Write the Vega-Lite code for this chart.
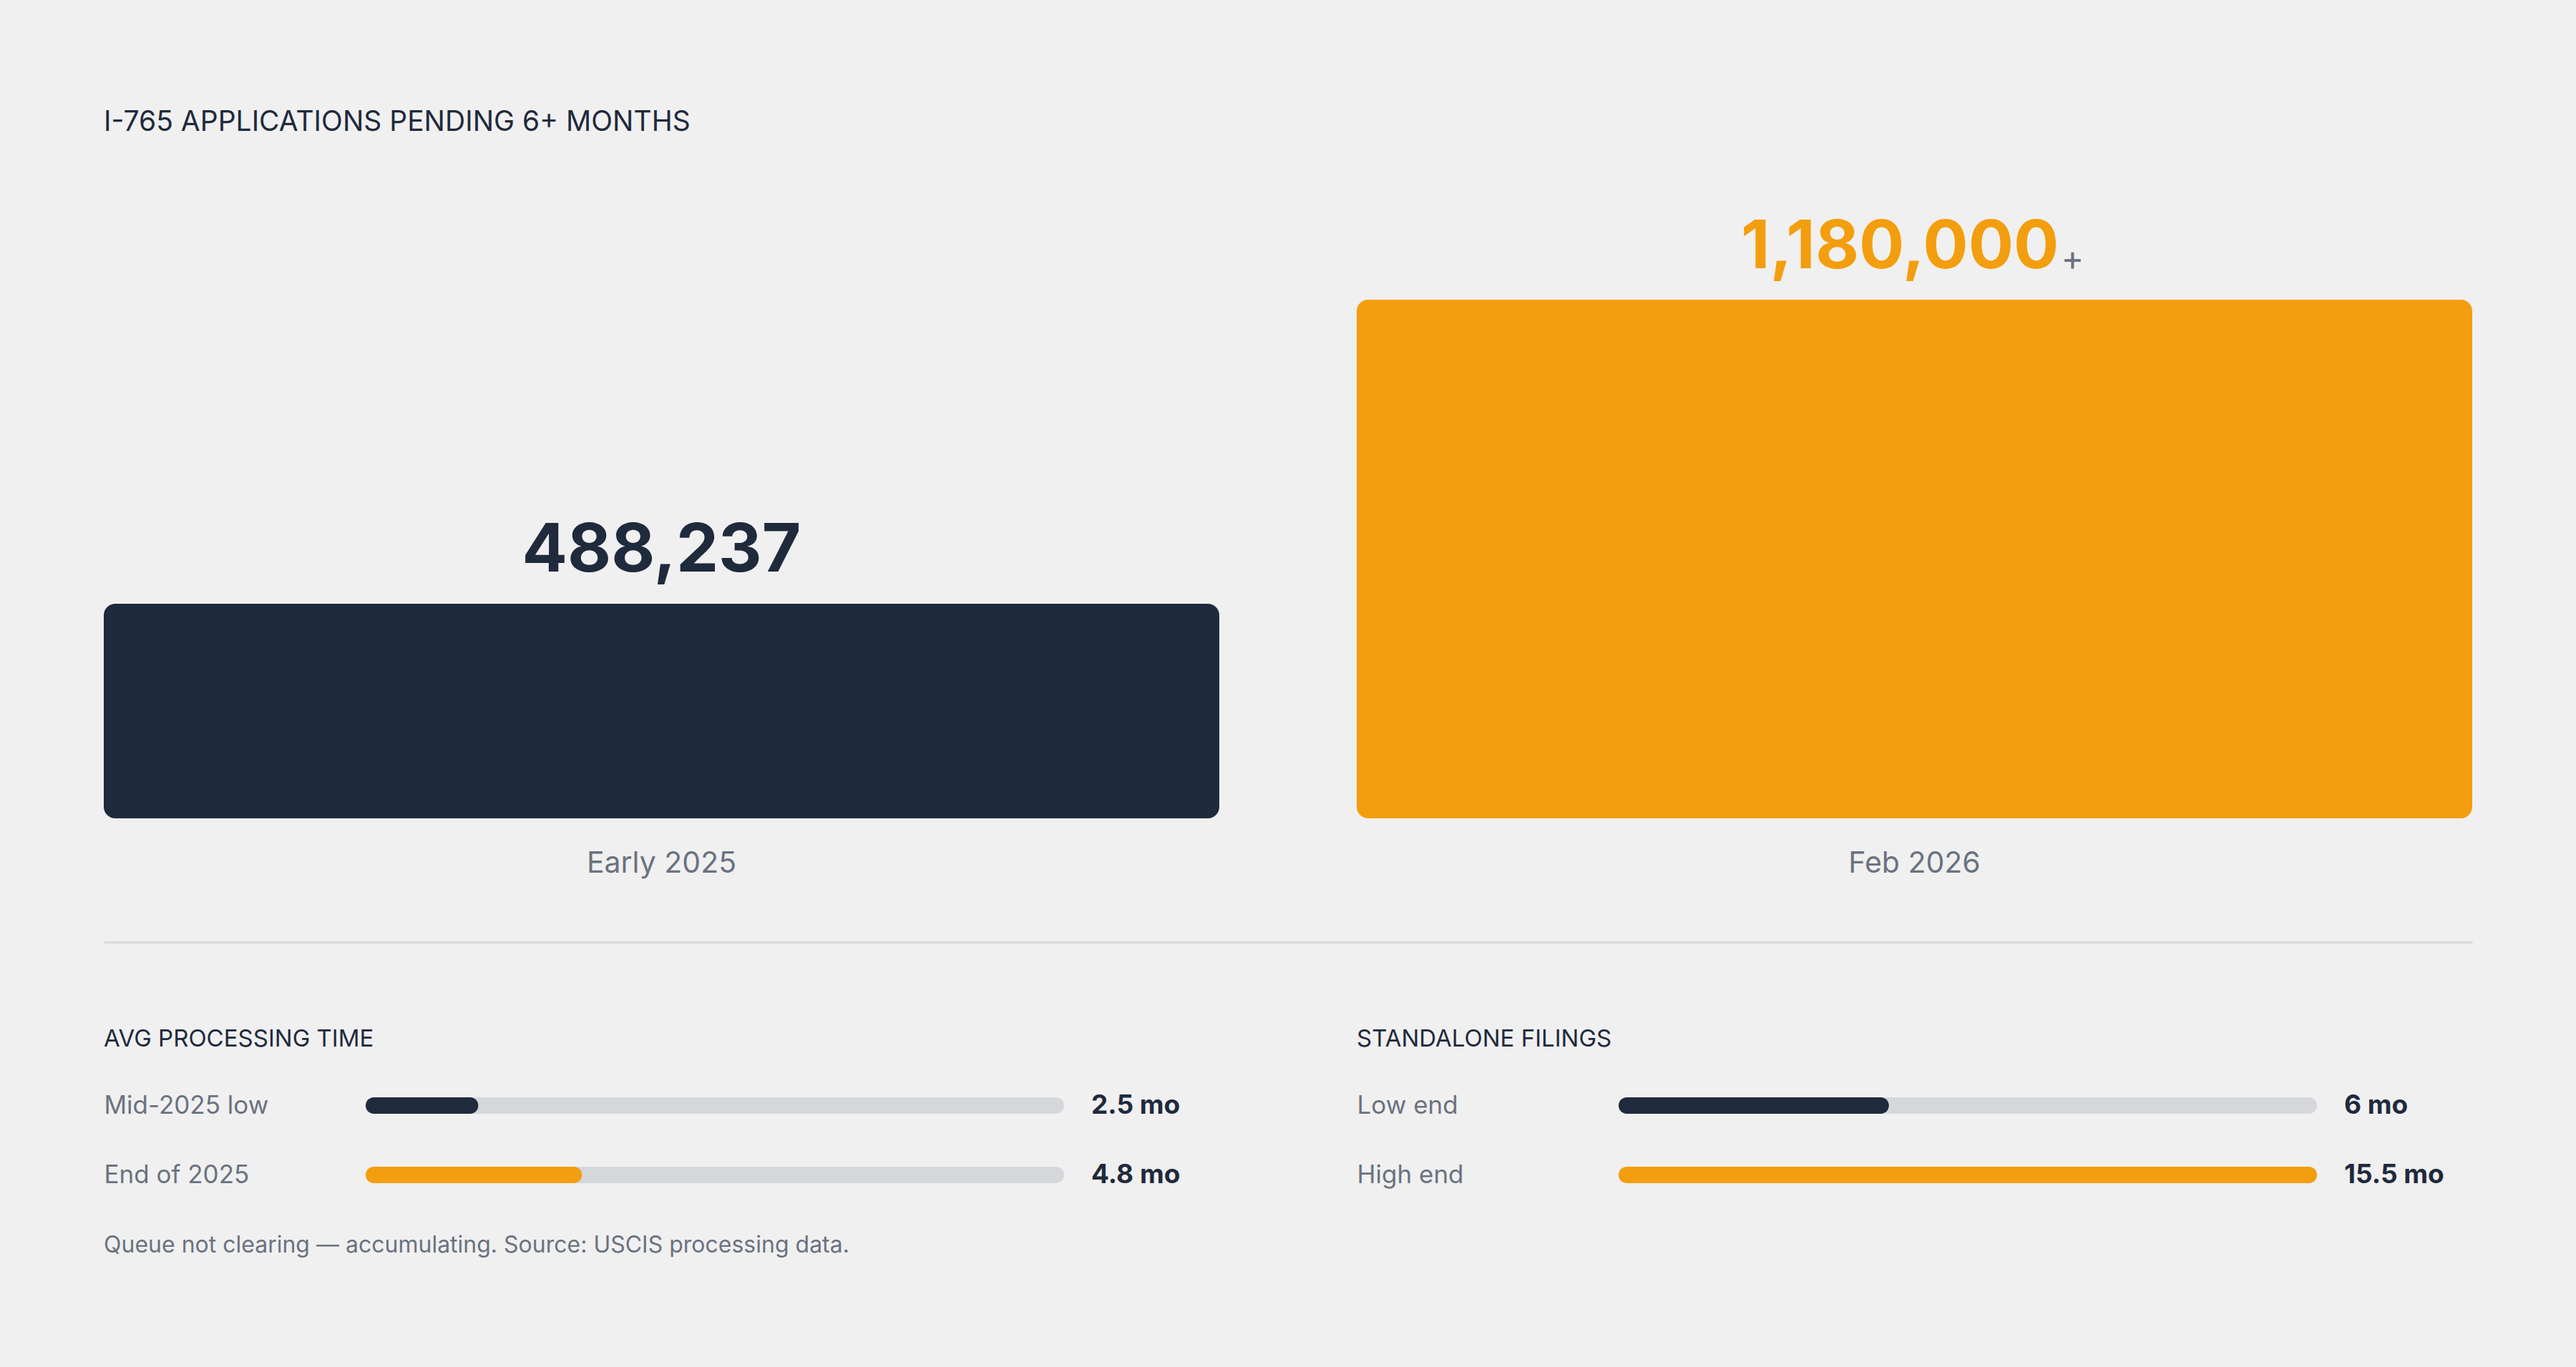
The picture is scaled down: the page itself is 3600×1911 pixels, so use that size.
{
  "$schema": "https://vega.github.io/schema/vega-lite/v6.json",
  "background": "#f0f0f0",
  "padding": {"left": 145, "right": 145, "top": 152, "bottom": 160},
  "config": {
    "font": "Inter",
    "view": {"stroke": null}
  },
  "title": {
    "text": "Queue not clearing — accumulating. Source: USCIS processing data.",
    "orient": "bottom",
    "anchor": "start",
    "fontSize": 32,
    "fontWeight": 400,
    "color": "#6b7280",
    "offset": 35
  },
  "spacing": 120,
  "vconcat": [
    {
      "width": 3310,
      "height": 891,
      "title": {
        "text": "I-765 APPLICATIONS PENDING 6+ MONTHS",
        "anchor": "start",
        "frame": "bounds",
        "fontSize": 39,
        "fontWeight": 400,
        "color": "#1f2a3c",
        "offset": 62
      },
      "data": {
        "values": [
          {"period": "Early 2025", "count": 488237, "label": "488,237", "suffix": ""},
          {"period": "Feb 2026", "count": 1180000, "label": "1,180,000", "suffix": "+"}
        ]
      },
      "encoding": {
        "x": {
          "field": "period",
          "type": "nominal",
          "sort": null,
          "scale": {"paddingInner": 0.10965, "paddingOuter": 0},
          "axis": {
            "title": null,
            "labels": false,
            "ticks": false,
            "grid": false,
            "domain": true,
            "domainColor": "#dadada",
            "domainWidth": 3,
            "offset": 173
          }
        }
      },
      "layer": [
        {
          "mark": {"type": "bar", "cornerRadius": 16},
          "encoding": {
            "y": {"field": "count", "type": "quantitative", "scale": {"domain": [0, 1450000], "nice": false}, "axis": null},
            "color": {
              "field": "period",
              "type": "nominal",
              "scale": {"domain": ["Early 2025", "Feb 2026"], "range": ["#1f2a3c", "#f39e0e"]},
              "legend": null
            }
          }
        },
        {
          "transform": [{"filter": {"field": "period", "equal": "Early 2025"}}],
          "mark": {"type": "text", "fontSize": 94, "fontWeight": 700, "baseline": "alphabetic", "align": "center", "dy": -45},
          "encoding": {
            "y": {"field": "count", "type": "quantitative", "axis": null},
            "text": {"field": "label"},
            "color": {"field": "period", "type": "nominal", "legend": null}
          }
        },
        {
          "transform": [{"filter": {"field": "period", "equal": "Feb 2026"}}],
          "mark": {"type": "text", "fontSize": 94, "fontWeight": 700, "baseline": "alphabetic", "align": "right", "dx": 202, "dy": -44},
          "encoding": {
            "y": {"field": "count", "type": "quantitative", "axis": null},
            "text": {"field": "label"},
            "color": {"field": "period", "type": "nominal", "legend": null}
          }
        },
        {
          "transform": [{"filter": {"field": "period", "equal": "Feb 2026"}}],
          "mark": {"type": "text", "fontSize": 48, "color": "#6b7280", "baseline": "alphabetic", "align": "left", "dx": 205, "dy": -41},
          "encoding": {
            "y": {"field": "count", "type": "quantitative", "axis": null},
            "text": {"field": "suffix"}
          }
        },
        {
          "mark": {"type": "text", "fontSize": 41, "color": "#6b7280", "baseline": "alphabetic", "align": "center", "dy": 76},
          "encoding": {
            "y": {"datum": 0, "type": "quantitative", "axis": null},
            "text": {"field": "period"}
          }
        }
      ]
    },
    {
      "bounds": "flush",
      "spacing": 409,
      "hconcat": [
        {
          "width": 1342,
          "height": 194,
          "title": {
            "text": "AVG PROCESSING TIME",
            "anchor": "start",
            "frame": "bounds",
            "fontSize": 33,
            "fontWeight": 400,
            "color": "#1f2a3c",
            "offset": 27
          },
          "data": {
            "values": [
              {"measure": "Mid-2025 low", "months": 2.5, "label": "2.5 mo", "level": "low"},
              {"measure": "End of 2025", "months": 4.8, "label": "4.8 mo", "level": "high"}
            ]
          },
          "encoding": {
            "y": {
              "field": "measure",
              "type": "nominal",
              "sort": null,
              "scale": {"paddingInner": 0, "paddingOuter": 0},
              "axis": {
                "title": null,
                "ticks": false,
                "domain": false,
                "grid": false,
                "labelAlign": "left",
                "labelBaseline": "middle",
                "labelPadding": 0,
                "labelLimit": 0,
                "labelFontSize": 35,
                "labelColor": "#6b7280"
              }
            }
          },
          "layer": [
            {
              "mark": {"type": "bar", "height": 23, "cornerRadius": 11.5, "color": "#d5d7db"},
              "encoding": {
                "x": {"datum": 15.5, "type": "quantitative", "scale": {"domain": [0, 15.5], "nice": false, "range": [366, 1342]}, "axis": null}
              }
            },
            {
              "mark": {"type": "bar", "height": 23, "cornerRadius": 11.5},
              "encoding": {
                "x": {"field": "months", "type": "quantitative", "stack": null, "axis": null},
                "color": {
                  "field": "level",
                  "type": "nominal",
                  "scale": {"domain": ["low", "high"], "range": ["#1f2a3c", "#f39e0e"]},
                  "legend": null
                }
              }
            },
            {
              "mark": {"type": "text", "align": "left", "baseline": "middle", "dx": 38, "fontSize": 37, "fontWeight": 700, "color": "#1f2a3c"},
              "encoding": {
                "x": {"datum": 15.5, "type": "quantitative", "axis": null},
                "text": {"field": "label"}
              }
            }
          ]
        },
        {
          "width": 1342,
          "height": 194,
          "title": {
            "text": "STANDALONE FILINGS",
            "anchor": "start",
            "frame": "bounds",
            "fontSize": 33,
            "fontWeight": 400,
            "color": "#1f2a3c",
            "offset": 27
          },
          "data": {
            "values": [
              {"measure": "Low end", "months": 6, "label": "6 mo", "level": "low"},
              {"measure": "High end", "months": 15.5, "label": "15.5 mo", "level": "high"}
            ]
          },
          "encoding": {
            "y": {
              "field": "measure",
              "type": "nominal",
              "sort": null,
              "scale": {"paddingInner": 0, "paddingOuter": 0},
              "axis": {
                "title": null,
                "ticks": false,
                "domain": false,
                "grid": false,
                "labelAlign": "left",
                "labelBaseline": "middle",
                "labelPadding": 0,
                "labelLimit": 0,
                "labelFontSize": 35,
                "labelColor": "#6b7280"
              }
            }
          },
          "layer": [
            {
              "mark": {"type": "bar", "height": 23, "cornerRadius": 11.5, "color": "#d5d7db"},
              "encoding": {
                "x": {"datum": 15.5, "type": "quantitative", "scale": {"domain": [0, 15.5], "nice": false, "range": [366, 1342]}, "axis": null}
              }
            },
            {
              "mark": {"type": "bar", "height": 23, "cornerRadius": 11.5},
              "encoding": {
                "x": {"field": "months", "type": "quantitative", "stack": null, "axis": null},
                "color": {
                  "field": "level",
                  "type": "nominal",
                  "scale": {"domain": ["low", "high"], "range": ["#1f2a3c", "#f39e0e"]},
                  "legend": null
                }
              }
            },
            {
              "mark": {"type": "text", "align": "left", "baseline": "middle", "dx": 38, "fontSize": 37, "fontWeight": 700, "color": "#1f2a3c"},
              "encoding": {
                "x": {"datum": 15.5, "type": "quantitative", "axis": null},
                "text": {"field": "label"}
              }
            }
          ]
        }
      ]
    }
  ]
}
